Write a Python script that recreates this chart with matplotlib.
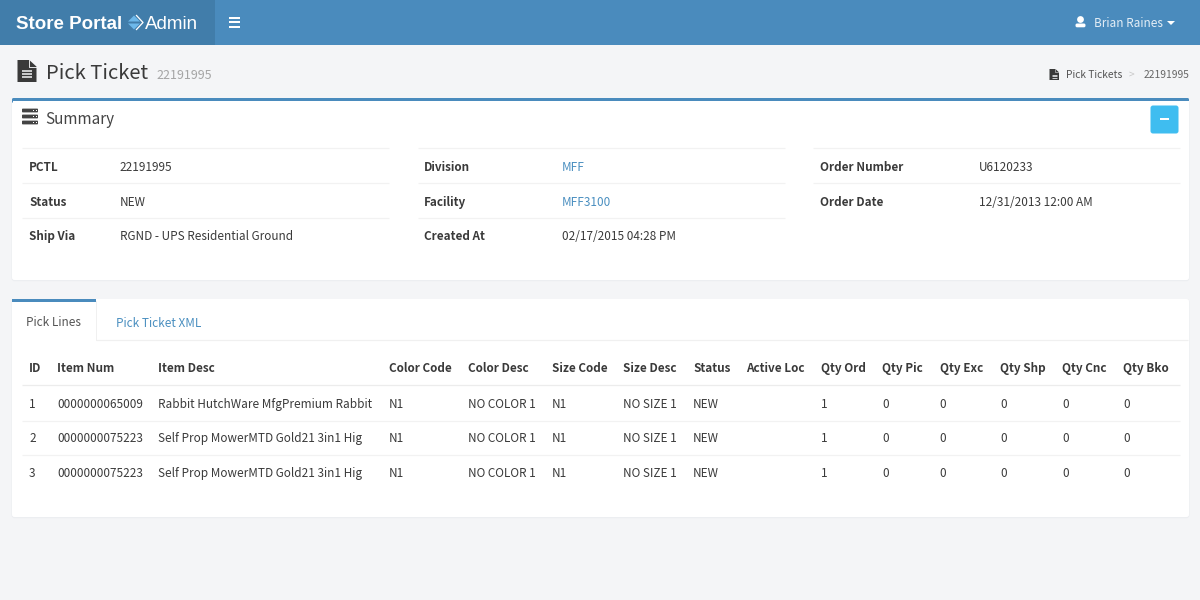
import matplotlib
matplotlib.use('Agg')
import matplotlib.pyplot as plt
from matplotlib.patches import Rectangle, Polygon, FancyBboxPatch, Circle

plt.rcParams['font.family'] = ['Noto Sans CJK SC', 'DejaVu Sans']
plt.rcParams['text.hinting'] = 'force_autohint'

# ---- data ----
brand_main = 'Store Portal'
brand_sub = 'Admin'
user_name = 'Brian Raines'
page_title = 'Pick Ticket'
ticket_id = '22191995'
crumbs = ['Pick Tickets', '>', '22191995']
panel_title = 'Summary'
summary_col1 = [('PCTL', '22191995'), ('Status', 'NEW'), ('Ship Via', 'RGND - UPS Residential Ground')]
summary_col2 = [('Division', 'MFF'), ('Facility', 'MFF3100'), ('Created At', '02/17/2015 04:28 PM')]
summary_col3 = [('Order Number', 'U6120233'), ('Order Date', '12/31/2013 12:00 AM')]
tabs = ['Pick Lines', 'Pick Ticket XML']
table_headers = ['ID', 'Item Num', 'Item Desc', 'Color Code', 'Color Desc', 'Size Code', 'Size Desc',
                 'Status', 'Active Loc', 'Qty Ord', 'Qty Pic', 'Qty Exc', 'Qty Shp', 'Qty Cnc', 'Qty Bko']
table_rows = [
    ['1', '0000000065009', 'Rabbit HutchWare MfgPremium Rabbit', 'N1', 'NO COLOR 1', 'N1', 'NO SIZE 1', 'NEW', '', '1', '0', '0', '0', '0', '0'],
    ['2', '0000000075223', 'Self Prop MowerMTD Gold21 3in1 Hig', 'N1', 'NO COLOR 1', 'N1', 'NO SIZE 1', 'NEW', '', '1', '0', '0', '0', '0', '0'],
    ['3', '0000000075223', 'Self Prop MowerMTD Gold21 3in1 Hig', 'N1', 'NO COLOR 1', 'N1', 'NO SIZE 1', 'NEW', '', '1', '0', '0', '0', '0', '0'],
]

# ---- layout (y values are text baselines) ----
col_x = [29, 57.3, 158, 389, 468, 551.5, 623, 693, 746, 821, 882, 939.5, 1000, 1062, 1123]
row_y = [408, 442, 477]
row_rules = [420.5, 455]
summary_layout = [(29, 119.5, 22, 389), (424, 562, 418, 785), (820, 979, 813, 1180)]
summary_rows_y = [171, 206, 240]
summary_rules = [148, 183, 218]
INK, BLUE, LINK = '#3a3a3a', '#4a8bbd', '#4a8fc0'
BG, RULE = '#f4f5f7', '#f2f2f2'
BODY, HEAD = 11.8, 11.7
px = 0.72  # points per pixel at dpi 100

fig = plt.figure(figsize=(12, 6), dpi=100, facecolor=BG)
ax = fig.add_axes([0, 0, 1, 1])
ax.set_xlim(0, 1200)
ax.set_ylim(600, 0)
ax.axis('off')


def rect(x, y, w, h, color, z=1):
    ax.add_patch(Rectangle((x, y), w, h, facecolor=color, edgecolor='none', zorder=z))


def rrect(x, y, w, h, color, r=2.5, z=1):
    ax.add_patch(FancyBboxPatch((x, y), w, h, boxstyle=f'round,pad=0,rounding_size={r}',
                                facecolor=color, edgecolor='none', zorder=z))


def hline(x0, x1, y, color=RULE, lw=1.2):
    ax.plot([x0, x1], [y, y], color=color, lw=lw * px, solid_capstyle='butt', zorder=2)


def txt(x, y, s, size=BODY, color=INK, weight='normal', ha='left', family=None):
    ax.text(x, y, s, fontsize=size * px, color=color, fontweight=weight, ha=ha, va='baseline',
            zorder=5, family=family)


def doc_icon(x, y, w, h, fc, lc):
    ax.add_patch(Polygon([(x, y), (x + w * 0.62, y), (x + w, y + h * 0.3), (x + w, y + h), (x, y + h)],
                         closed=True, facecolor=fc, edgecolor='none', zorder=4))
    ax.plot([x + w * 0.62, x + w * 0.62, x + w], [y, y + h * 0.3, y + h * 0.3], color=lc,
            lw=max(h * 0.04, 0.5) * px, zorder=5)
    for f in (0.5, 0.64, 0.78):
        ax.plot([x + w * 0.22, x + w * 0.78], [y + h * f] * 2, color=lc, lw=max(h * 0.07, 0.6) * px,
                solid_capstyle='butt', zorder=5)


def panel(x, y, w, h):
    rrect(x - 0.5, y, w + 1, h + 1.2, '#eceef1', 3, 1)
    rrect(x, y, w, h, 'white', 2.5, 1.5)


# navbar
rect(0, 0, 1200, 45, BLUE)
rect(0, 0, 215, 45, '#417daa', 2)
txt(16, 29, brand_main, 18.8, 'white', 'bold', family='Liberation Sans')
ax.add_patch(Polygon([(128, 21.5), (134, 15.5), (140, 21.5)], facecolor='#6db8ea', zorder=4))
ax.add_patch(Polygon([(128, 23.5), (134, 29.5), (140, 23.5)], facecolor='#6db8ea', zorder=4))
ax.plot([136.5, 143, 136.5], [15.5, 22.5, 29.5], color='white', lw=1.3 * px, zorder=5)
txt(144.5, 29, brand_sub, 18.8, 'white', family='Liberation Sans')
for y in (17.5, 22, 26.5):
    rect(228.5, y - 1, 11.5, 2, 'white', 4)
ax.add_patch(Circle((1080.5, 19.5), 3.4, facecolor='white', zorder=4))
rrect(1075.5, 23.5, 10, 3.8, 'white', 1.6, 4)
txt(1094, 27, user_name, BODY, '#e4eef6')
ax.add_patch(Polygon([(1167, 21), (1175, 21), (1171, 25)], facecolor='white', zorder=4))

# page header
doc_icon(17.5, 60, 19, 22, INK, BG)
txt(46, 79, page_title, 20.2, INK)
txt(156, 79, ticket_id, 12.5, '#a5a5a5')
doc_icon(1049.5, 69, 9.5, 11, INK, BG)
txt(1066, 78, crumbs[0], 10.2, '#555555')
txt(1129, 78, crumbs[1], 10.2, '#c8c8c8')
txt(1144, 78, crumbs[2], 10.2, '#666666')

# summary panel
panel(12, 100, 1177, 180)
rrect(12, 98, 1177, 5, BLUE, 1.5, 2)
rect(12.5, 101, 1176, 4, 'white', 2.5)
for y in (110.5, 116.5, 122.5):
    rrect(22, y - 1.9, 16, 3.8, '#444444', 0.8, 4)
    rect(33, y - 0.5, 1.4, 1, 'white', 5)
    rect(35.5, y - 0.5, 1.4, 1, 'white', 5)
txt(45.7, 124, panel_title, 15.3, '#444444')
rrect(1150.5, 105.5, 28, 28, '#3fbdf0', 2.5, 3)
rect(1160, 117.5, 9, 2.4, 'white', 4)

link_rows = {1: {0, 1}}
for c, (col, (lx, vx, x0, x1)) in enumerate(zip((summary_col1, summary_col2, summary_col3), summary_layout)):
    for r, (label, value) in enumerate(col):
        y = summary_rows_y[r]
        txt(lx, y, label, HEAD, INK, 'bold')
        txt(vx, y, value, BODY, LINK if r in link_rows.get(c, ()) else INK)
        hline(x0, x1, summary_rules[r])

# lines panel
panel(12, 299, 1177, 218)
rect(12, 299, 84, 2.6, BLUE, 2)
hline(96, 1188, 340, '#f0f0f0')
ax.plot([96, 96], [301, 340], color='#f0f0f0', lw=px, zorder=2)
txt(26.5, 326, tabs[0], 11.8, '#555555')
txt(116, 327, tabs[1], 11.8, LINK)

for x, h in zip(col_x, table_headers):
    txt(x, 372, h, HEAD, INK, 'bold')
hline(22, 1180, 385, '#ececec', 1.3)
for y, row in zip(row_y, table_rows):
    for x, v in zip(col_x, row):
        if v:
            txt(x, y, v, BODY, INK)
for y in row_rules:
    hline(22, 1180, y, RULE)

fig.savefig('out.png', dpi=100, facecolor=BG)
